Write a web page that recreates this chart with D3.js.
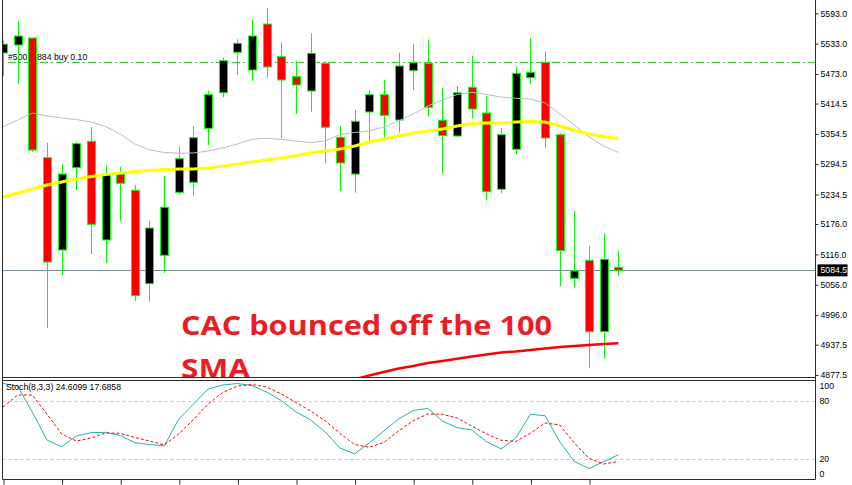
<!DOCTYPE html>
<html><head><meta charset="utf-8">
<script src="https://cdn.jsdelivr.net/npm/d3@7"></script>
<style>html,body{margin:0;padding:0;background:#fff;overflow:hidden}</style>
</head><body><svg id="c" width="852" height="485"></svg>
<script>
// ---- data (daily candles, CAC 40) ----
const open  = [5514.5,5530.3,5544.1,5307.4,5124.8,5287.6,5339.8,5144.6,5275.0,5242.9,5058.1,5114.3,5238.9,5258.7,5365.5,5435.9,5515.9,5480.8,5571.8,5507.2,5467.6,5439.3,5494.1,5347.7,5275.0,5397.8,5432.0,5381.9,5479.5,5494.1,5381.4,5350.3,5446.6,5395.8,5244.9,5324.0,5465.6,5496.1,5352.9,5068.8,5104.4,4963.2,5090.6];
const high  = [5540.0,5577.8,5544.5,5337.0,5295.0,5338.4,5368.0,5291.5,5289.6,5253.4,5182.8,5271.2,5329.1,5370.1,5439.9,5506.0,5541.6,5581.1,5602.9,5534.8,5499.2,5553.4,5497.3,5370.1,5401.7,5441.3,5461.1,5515.1,5531.7,5540.2,5445.8,5449.2,5508.5,5430.0,5365.5,5487.4,5543.6,5517.0,5355.6,5202.0,5132.7,5157.8,5123.4];
const low   = [5469.0,5453.0,5318.7,4970.5,5075.4,5243.5,5117.0,5099.1,5182.2,5023.9,5022.5,5079.3,5235.6,5232.2,5332.5,5426.8,5471.0,5459.1,5466.4,5345.8,5393.8,5398.4,5296.3,5241.5,5238.1,5339.0,5342.4,5356.8,5441.3,5388.5,5276.5,5347.7,5385.3,5223.7,5237.0,5314.7,5452.6,5327.2,5053.6,5051.0,4890.8,4910.6,5073.4];
const close = [5532.0,5548.0,5322.6,5101.0,5275.0,5335.0,5175.6,5275.0,5256.7,5034.4,5168.3,5209.3,5305.4,5347.0,5432.0,5499.2,5533.7,5548.1,5486.8,5461.1,5451.2,5513.9,5367.5,5296.9,5379.4,5432.0,5391.2,5488.8,5495.3,5407.1,5350.9,5435.9,5403.7,5240.1,5352.9,5474.3,5476.3,5346.3,5123.4,5083.3,4963.2,5106.4,5084.5];
// moving averages
const maYellow = [5229.6,5237.5,5245.4,5253.3,5259.3,5265.2,5270.2,5274.1,5277.1,5280.1,5282.1,5284.0,5285.0,5285.0,5287.0,5291.0,5294.9,5298.9,5302.8,5306.8,5311.7,5316.7,5320.6,5324.6,5330.5,5338.4,5344.4,5350.3,5356.2,5360.2,5364.2,5370.1,5375.0,5376.0,5376.0,5378.0,5379.0,5378.0,5370.1,5362.2,5354.3,5349.3,5345.4];
const maGrey   = [5368.1,5381.9,5395.8,5389.9,5385.9,5382.9,5378.0,5369.1,5354.3,5334.5,5322.7,5317.7,5316.1,5316.7,5320.6,5326.6,5334.5,5343.8,5345.8,5343.4,5340.4,5337.4,5340.4,5353.3,5357.2,5360.2,5368.1,5380.0,5393.8,5409.6,5421.5,5432.4,5436.7,5432.4,5427.4,5424.9,5423.5,5415.6,5393.8,5372.1,5348.3,5330.5,5317.7];
const sma100   = [null,null,null,null,null,null,null,null,null,null,null,null,null,null,null,null,null,null,null,null,null,null,null,null,4868.7,4876.6,4883.5,4890.4,4895.4,4901.3,4905.3,4909.6,4914.1,4918.1,4922.1,4924.0,4927.0,4930.0,4932.9,4934.9,4936.9,4938.9,4940.3];
// stochastic (8,3,3)
const stochK = [98.4,95.8,68.9,40.0,33.0,44.1,47.5,47.9,44.6,37.2,35.3,33.8,61.7,77.2,92.7,96.9,98.4,96.3,89.6,80.8,68.9,60.7,48.2,31.7,25.5,36.9,49.3,61.7,70.5,72.6,59.6,52.7,50.3,38.4,30.7,42.0,66.6,65.1,38.2,17.7,10.5,17.5,24.61];
const stochD = [74.1,86.5,86.5,66.9,46.2,38.9,42.0,47.2,46.9,42.6,38.9,34.8,46.2,61.2,77.2,89.1,95.8,97.4,94.8,87.6,78.8,70.0,59.6,46.9,35.3,32.4,37.4,49.3,59.9,66.9,66.6,62.7,54.4,46.2,39.7,38.4,46.9,57.6,55.5,36.9,21.0,15.1,17.69];
// ticks / levels
const priceTicks = [5593.0,5533.0,5473.0,5414.5,5354.5,5294.5,5234.5,5176.0,5116.0,5056.0,4996.0,4937.5,4877.5];
const stochTicks = [100,80,20,0];
const stochLevels = [80,20];
const timeTickBars = [0,4,8,12,16,20,24,28,32,36,40];
const bidPrice = 5084.5;
const orderPrice = 5496.7;
const orderLabel = "#50012884 buy 0.10";
const stochLabel = "Stoch(8,3,3) 24.6099 17.6858";
const noteLines = ["CAC bounced off the 100", "SMA"];
const noteWidths = [371, 69];

// ---- layout ----
const L = 2.5, R = 815.5, mainBottom = 377.5, stTop = 380.5, stBottom = 479.5;
const bars = d3.range(open.length);
const svg = d3.select('#c');
const x = d3.scaleLinear().domain([0, bars.length - 1]).range([3, 618.3]);
const y = d3.scaleLinear().domain([4877.5, 5593.0]).range([375, 13.3]);
const ys = d3.scaleLinear().domain([0, 100]).range([478.6, 382]);
const smallFont = "'Liberation Sans', Arial, sans-serif";

svg.append('rect').attr('width',852).attr('height',485).attr('fill','#fff');
const defs = svg.append('defs');
defs.append('clipPath').attr('id','cm').append('rect').attr('x',L).attr('y',0).attr('width',R-L).attr('height',mainBottom);
defs.append('clipPath').attr('id','cs').append('rect').attr('x',L).attr('y',stTop).attr('width',R-L).attr('height',stBottom-stTop);

const gm = svg.append('g').attr('clip-path','url(#cm)');

// order line + label
gm.append('line').attr('x1',8).attr('x2',R).attr('y1',Math.round(y(orderPrice))+0.5).attr('y2',Math.round(y(orderPrice))+0.5)
  .attr('stroke','#32cd32').attr('stroke-dasharray','8,3,2,3');
gm.append('text').attr('x',8).attr('y',Math.round(y(orderPrice))-2).attr('font-family',smallFont).attr('font-size',8.7).attr('fill','#000').text(orderLabel);
// bid line
gm.append('line').attr('x1',L).attr('x2',R).attr('y1',Math.round(y(bidPrice))+0.5).attr('y2',Math.round(y(bidPrice))+0.5)
  .attr('stroke','#778899');

// candles
const cx = i => Math.round(x(i)) + 0.5;
gm.selectAll('line.wick').data(bars).join('line').attr('class','wick')
  .attr('x1',cx).attr('x2',cx).attr('y1',i=>y(high[i])).attr('y2',i=>y(low[i]))
  .attr('stroke','#00ff00').attr('stroke-width',1);
gm.selectAll('rect.body').data(bars).join('rect').attr('class','body')
  .attr('x',i=>cx(i)-4).attr('width',8)
  .attr('y',i=>y(Math.max(open[i],close[i])))
  .attr('height',i=>Math.max(1.5, Math.abs(y(open[i])-y(close[i]))))
  .attr('fill',i=>close[i]>=open[i] ? '#000' : '#ff0000')
  .attr('stroke','#00ff00').attr('stroke-width',1);

// moving averages
const pline = d3.line().defined(d=>d!=null).x((d,i)=>x(i)).y(d=>y(d));
gm.append('path').attr('d',pline(maGrey)).attr('fill','none').attr('stroke','#bcbcbc').attr('stroke-width',1);
gm.append('path').attr('d',pline(maYellow)).attr('fill','none').attr('stroke','#ffff00').attr('stroke-width',3);
gm.append('path').attr('d',pline(sma100)).attr('fill','none').attr('stroke','#ff0000').attr('stroke-width',2.5);

// annotation
svg.selectAll('text.note').data(noteLines).join('text').attr('class','note')
  .attr('x',181).attr('y',(d,i)=>335+i*43)
  .attr('font-family',"'Open Sans', sans-serif").attr('font-weight',700)
  .attr('font-size',26.5).attr('fill','#ed1c24')
  .attr('textLength',(d,i)=>noteWidths[i]).attr('lengthAdjust','spacingAndGlyphs')
  .text(d=>d);

// stochastic panel
const gs = svg.append('g').attr('clip-path','url(#cs)');
gs.selectAll('line.lvl').data(stochLevels).join('line').attr('class','lvl')
  .attr('x1',L).attr('x2',R).attr('y1',d=>Math.round(ys(d))+0.5).attr('y2',d=>Math.round(ys(d))+0.5)
  .attr('stroke','#c8c8c8').attr('stroke-dasharray','3,3');
const sline = d3.line().x((d,i)=>x(i)).y(d=>ys(d));
gs.append('path').attr('d',sline(stochK)).attr('fill','none').attr('stroke','#20b2aa').attr('stroke-width',1);
gs.append('path').attr('d',sline(stochD)).attr('fill','none').attr('stroke','#ff0000').attr('stroke-width',1).attr('stroke-dasharray','3,2');
svg.append('text').attr('x',6).attr('y',390).attr('font-family',smallFont).attr('font-size',8.7).attr('fill','#000').text(stochLabel);

// frames
const frame = svg.append('g').attr('stroke','#2b2b2b').attr('stroke-width',1);
frame.append('line').attr('x1',L).attr('x2',L).attr('y1',0).attr('y2',stBottom);
frame.append('line').attr('x1',R).attr('x2',R).attr('y1',0).attr('y2',stBottom);
frame.append('line').attr('x1',L).attr('x2',R).attr('y1',mainBottom).attr('y2',mainBottom);
frame.append('line').attr('x1',L).attr('x2',R).attr('y1',stTop).attr('y2',stTop);
frame.append('line').attr('x1',L).attr('x2',R).attr('y1',stBottom).attr('y2',stBottom);

// price axis
const ax = svg.append('g').attr('transform',`translate(${R},0)`)
  .call(d3.axisRight(y).tickValues(priceTicks).tickSize(3).tickPadding(2).tickFormat(d3.format('.1f')));
ax.select('.domain').remove();
ax.selectAll('line').attr('stroke','#2b2b2b');
ax.selectAll('text').attr('font-family',smallFont).attr('font-size',8.7).attr('fill','#000');

// bid label box
const bidG = svg.append('g').attr('transform',`translate(${R+2},${y(bidPrice)})`);
bidG.append('rect').attr('x',0).attr('y',-6).attr('width',30).attr('height',12).attr('fill','#000');
bidG.append('text').attr('x',3).attr('y',0).attr('dy','0.34em').attr('font-family',smallFont).attr('font-size',8.7).attr('fill','#fff').text(d3.format('.1f')(bidPrice));

// stoch axis
const sax = svg.append('g').attr('transform',`translate(${R},0)`)
  .call(d3.axisRight(ys).tickValues(stochTicks).tickSize(0).tickPadding(4).tickFormat(d3.format('d')));
sax.select('.domain').remove();
sax.selectAll('.tick').attr('transform',d=>`translate(0,${Math.max(stTop+5.5, Math.min(stBottom-5.5, ys(d)))})`);
sax.selectAll('text').attr('font-family',smallFont).attr('font-size',8.7).attr('fill','#000');

// time axis ticks
const tax = svg.append('g').attr('transform',`translate(0,${stBottom})`)
  .call(d3.axisBottom(x).tickValues(timeTickBars).tickSize(5).tickFormat(''));
tax.select('.domain').remove();
tax.selectAll('line').attr('stroke','#2b2b2b').attr('transform','translate(0.5,0)');
</script></body></html>
